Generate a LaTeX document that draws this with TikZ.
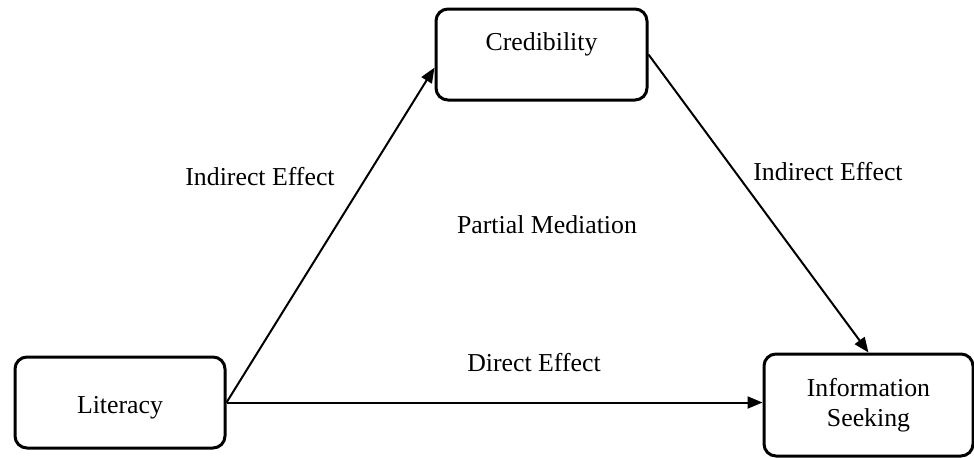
\documentclass[tikz,border=0pt]{standalone}
\usepackage{fontspec}
\setmainfont{Liberation Serif}
\usetikzlibrary{arrows.meta,calc}
\begin{document}
\begin{tikzpicture}[x=0.5pt,y=-0.5pt,
  box/.style={draw, line width=1.5pt, rounded corners=6pt, inner sep=0pt, align=center,
    font=\fontsize{12.9}{15}\selectfont},
  lbl/.style={inner sep=0pt, font=\fontsize{12.9}{15}\selectfont},
  arr/.style={line width=1pt, -{Triangle[length=7.5pt,width=6pt]}}]
\useasboundingbox (0,0) rectangle (974,457);
\node[box, minimum width=105.5pt, minimum height=45.5pt, text height=9pt, text depth=13.5pt] (cred) at (541.5,54.5) {Credibility};
\node[box, minimum width=105pt, minimum height=45.5pt, text height=11pt, text depth=0pt] (lit) at (120,402.5) {Literacy};
\node[box, minimum width=104.5pt, minimum height=51pt] (info) at (868.5,405) {Information\\Seeking};
\node[lbl] (l1) at (260,177) {Indirect Effect};
\node[lbl] (l2) at (828,172) {Indirect Effect};
\node[lbl] (l3) at (547,225) {Partial Mediation};
\node[lbl] (l4) at (534,363) {Direct Effect};
\draw[arr] (lit.east) -- (cred.187);
\draw[arr] (cred.east) -- (info.north);
\draw[arr] (lit.east) -- (lit.east -| info.west);
\end{tikzpicture}
\end{document}
